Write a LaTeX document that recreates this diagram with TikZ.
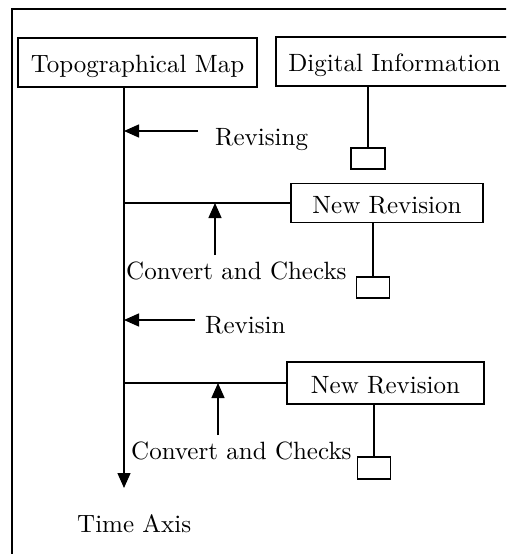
\documentclass[tikz,border=0pt]{standalone}
\usepackage{fontspec}
\setmainfont{lmroman10-regular}[Extension=.otf]
\usetikzlibrary{arrows.meta}
\tikzset{
  box/.style={draw, line width=1.6pt, inner sep=0pt, text height=20pt, text depth=0pt, anchor=center},
  smallbox/.style={draw, line width=1.6pt, inner sep=0pt, minimum width=33pt, minimum height=21pt, anchor=center},
  lbl/.style={inner sep=0pt, anchor=base west},
  ln/.style={line width=1.4pt},
  arr/.style={ln, -{Triangle[length=15pt,width=13pt]}}
}
\begin{document}
\begin{tikzpicture}[x=1pt,y=-1pt,font=\fontsize{25}{30}\selectfont]
\useasboundingbox (0,0) rectangle (506,554);
\clip (0,0) rectangle (506,554);
\draw[line width=1.8pt] (12,9) rectangle (520,570);
% boxes
\node[box, minimum width=239pt, minimum height=49pt] (topo) at (137.5,62.5) {Topographical Map};
\node[box, minimum width=237pt, minimum height=49pt] (dig) at (394.5,61.5) {Digital Information};
\node[smallbox, minimum width=34pt] (sb1) at (368,158.5) {};
\node[box, minimum width=192pt, minimum height=39pt] (nr1) at (387,203) {New Revision};
\node[smallbox] (sb2) at (373,287.5) {};
\node[box, minimum width=197pt, minimum height=42pt] (nr2) at (385.5,383) {New Revision};
\node[smallbox, minimum height=22pt] (sb3) at (374,468) {};
% labels
\node[lbl] (rev1) at (215,145) {Revising};
\node[lbl] (cc1) at (126,279) {Convert and Checks};
\node[lbl] (rev2) at (205,333) {Revisin};
\node[lbl] (cc2) at (131,459) {Convert and Checks};
\node[lbl] (tax) at (77,532) {Time Axis};
% coordinates
\coordinate (ax) at (124,0);
\coordinate (axe) at (124,488);
\coordinate (r1s) at (198,131);
\coordinate (r2s) at (195,320);
\coordinate (c1s) at (215,255);
\coordinate (c2s) at (218,435);
% connectors
\draw[arr] (topo.south -| ax) -- (axe);
\draw[arr] (r1s) -- (ax |- r1s);
\draw[arr] (r2s) -- (ax |- r2s);
\draw[ln] (ax |- nr1.west) -- (nr1.west);
\draw[ln] (ax |- nr2.west) -- (nr2.west);
\draw[arr] (c1s) -- (c1s |- nr1.west);
\draw[arr] (c2s) -- (c2s |- nr2.west);
\draw[ln] (dig.south -| sb1.north) -- (sb1.north);
\draw[ln] (nr1.south -| sb2.north) -- (sb2.north);
\draw[ln] (nr2.south -| sb3.north) -- (sb3.north);
\end{tikzpicture}
\end{document}
